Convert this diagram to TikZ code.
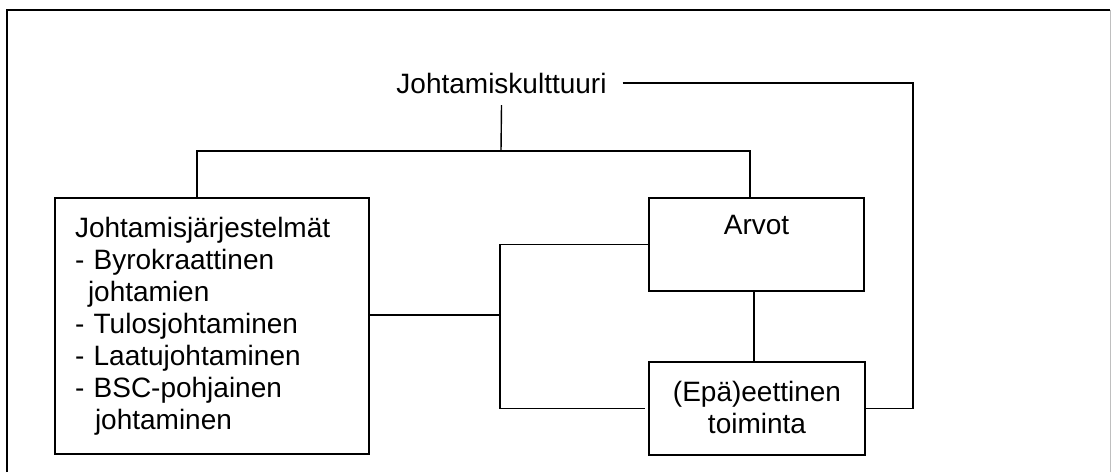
\documentclass[tikz,border=0pt]{standalone}
\usepackage{fontspec}
\setmainfont{Liberation Sans}
\begin{document}
\begin{tikzpicture}[x=1pt,y=-1pt,
  boxfont/.style={font=\fontsize{28}{32}\selectfont},
  box/.style={draw, line width=1.6pt, boxfont},
  link/.style={draw, line width=1.4pt},
  frame/.style={draw, line width=1.6pt}]
  \useasboundingbox (0,0) rectangle (1111,472);

  % outer frame
  \draw[frame] (7,472) -- (7,10) -- (1110,10);
  \draw[line width=1pt, black!25] (1110,10) -- (1110,472);

  % title
  \node[boxfont, inner xsep=16pt, inner ysep=12pt, text height=20pt, text depth=0pt]
    (title) at (501.5,83) {Johtamiskulttuuri};

  % management systems
  \node[box, minimum width=314pt, minimum height=256pt, inner xsep=20pt,
        text width=274pt, align=left] (systems) at (212,326)
    {Johtamisjärjestelmät\\
     - Byrokraattinen\\
     \hspace*{13pt}johtamien\\
     - Tulosjohtaminen\\
     - Laatujohtaminen\\
     - BSC-pohjainen\\
     \hspace*{20pt}johtaminen};

  % values
  \node[box, minimum width=215pt, inner sep=0pt, text height=36pt, text depth=57pt]
    (values) at (756.5,244.5) {Arvot};

  % (un)ethical action
  \node[box, minimum width=216pt, minimum height=93pt, inner sep=0pt, align=center,
        text depth=3pt] (action) at (757,408.5) {(Epä)eettinen\\toiminta};

  % junction points
  \coordinate (hub) at (501,151);
  \coordinate (junc) at (500,315);
  \coordinate (rail) at (913,83);

  % connectors
  \draw[link] (title.south) -- (hub);
  \draw[link] ([xshift=-15pt]systems.north) |- (hub) -| ([xshift=-6.5pt]values.north);
  \draw[link] ([yshift=11pt]systems.east) -- (junc);
  \draw[link] (values.west) -| (junc);
  \draw[link, shorten >=3pt] (junc) |- (action.west);
  \draw[link] ([xshift=-2.5pt]values.south) -- ([xshift=-3pt]action.north);
  \draw[link] (title.east) -- (rail) |- (action.east);
\end{tikzpicture}
\end{document}
